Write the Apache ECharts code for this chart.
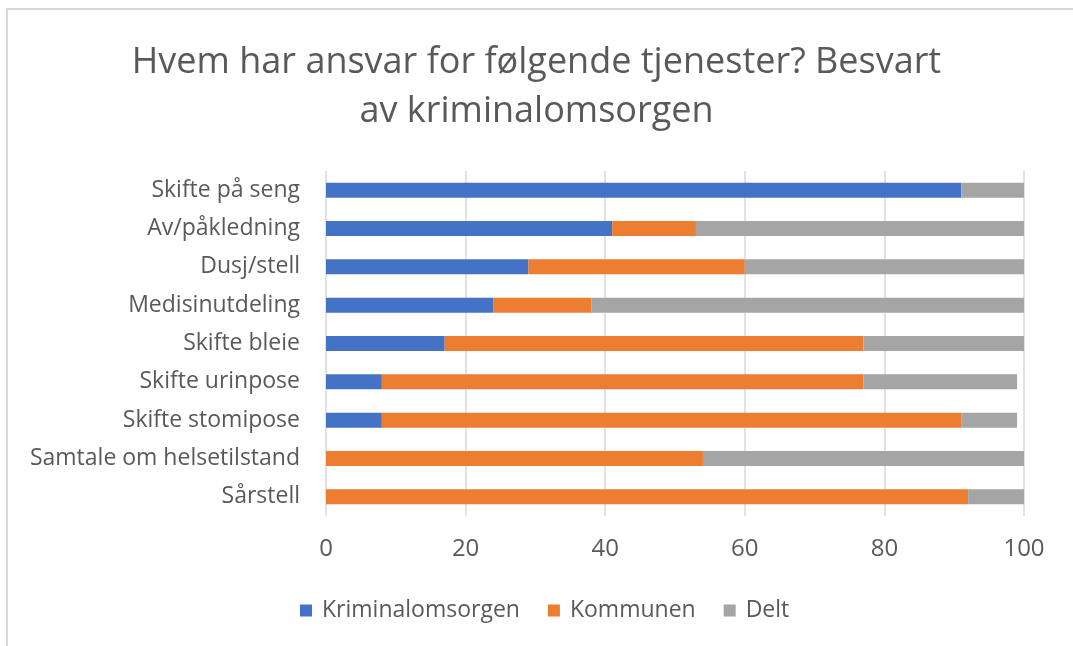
<!DOCTYPE html>
<html>
<head>
<meta charset="utf-8">
<script src="https://cdn.jsdelivr.net/npm/echarts@6/dist/echarts.min.js"></script>
<style>
  html, body { margin: 0; padding: 0; background: #fff; }
  #frame { position: absolute; left: 6px; top: 8px; width: 1067px; height: 638px;
           border-top: 2px solid #d9d9d9; border-left: 2px solid #d9d9d9; }
  #chart { position: absolute; left: 0; top: 0; width: 1073px; height: 646px; }
</style>
</head>
<body>
<div id="frame"></div>
<div id="chart"></div>
<script>
// Tjenester (top to bottom as in the chart)
const categories = [
  'Skifte på seng',
  'Av/påkledning',
  'Dusj/stell',
  'Medisinutdeling',
  'Skifte bleie',
  'Skifte urinpose',
  'Skifte stomipose',
  'Samtale om helsetilstand',
  'Sårstell'
];

// Prosent per svar
const kriminalomsorgen = [91, 41, 29, 24, 17, 8, 8, 0, 0];
const kommunen         = [0, 12, 31, 14, 60, 69, 83, 54, 92];
const delt             = [9, 47, 40, 62, 23, 22, 8, 46, 8];

const seriesNames = ['Kriminalomsorgen', 'Kommunen', 'Delt'];
const colors = ['#4472C4', '#ED7D31', '#A5A5A5'];

const font = '"Open Sans", Lato, sans-serif';
const textColor = '#595959';

var chart = echarts.init(document.getElementById('chart'));

function makeSeries(name, values, color) {
  return {
    name: name,
    type: 'bar',
    stack: 'total',
    barWidth: 15,
    itemStyle: { color: color },
    data: values
  };
}

chart.setOption({
  animation: false,
  textStyle: { fontFamily: font },
  title: {
    text: 'Hvem har ansvar for følgende tjenester? Besvart\nav kriminalomsorgen',
    left: 'center',
    top: 33,
    textStyle: {
      fontFamily: font,
      fontSize: 36,
      fontWeight: 'normal',
      color: textColor,
      lineHeight: 49
    }
  },
  legend: {
    data: seriesNames,
    bottom: 19,
    left: 295,
    itemWidth: 12,
    itemHeight: 12,
    itemGap: 28,
    icon: 'rect',
    textStyle: { fontFamily: font, fontSize: 23, color: textColor, padding: [0, 0, 0, 5] }
  },
  grid: {
    left: 326,
    right: 49,
    top: 171,
    bottom: 130
  },
  xAxis: {
    type: 'value',
    min: 0,
    max: 100,
    interval: 20,
    axisLine: { show: false },
    axisTick: { show: false },
    axisLabel: { fontFamily: font, fontSize: 24, color: textColor, margin: 21 },
    splitLine: { lineStyle: { color: '#d9d9d9', width: 1.5 } }
  },
  yAxis: {
    type: 'category',
    inverse: true,
    data: categories,
    axisLine: { show: false },
    axisTick: { show: false },
    axisLabel: { fontFamily: font, fontSize: 23, color: textColor, margin: 26 }
  },
  series: [
    makeSeries(seriesNames[0], kriminalomsorgen, colors[0]),
    makeSeries(seriesNames[1], kommunen, colors[1]),
    makeSeries(seriesNames[2], delt, colors[2])
  ]
});
</script>
</body>
</html>
